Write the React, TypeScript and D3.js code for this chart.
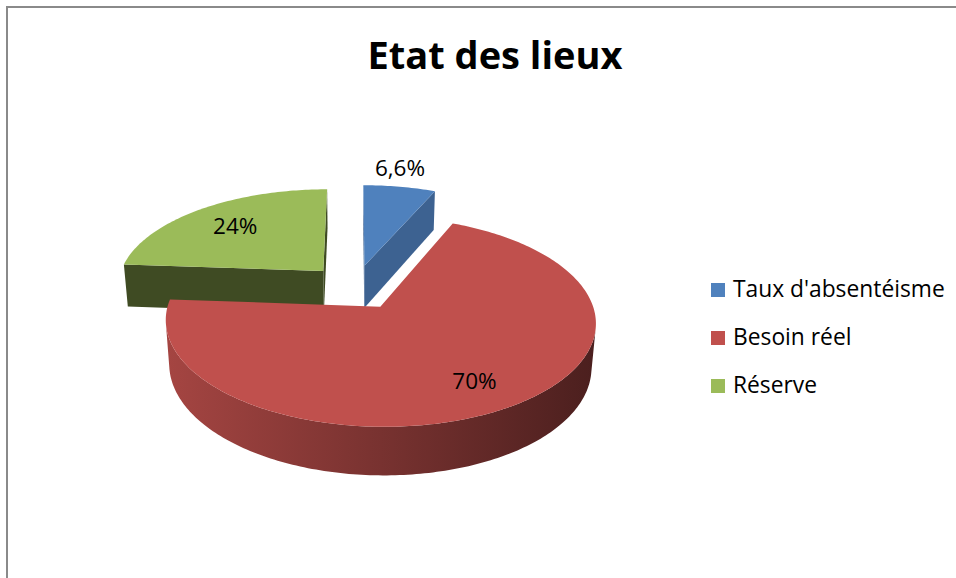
import React from 'react';
import * as d3 from 'd3';

// ---------- data ----------
const categories: string[] = ["Taux d'absentéisme", "Besoin réel", "Réserve"];
const values: number[] = [6.6, 70, 24];
const title = 'Etat des lieux';

// ---------- styles ----------
const topColors = ['#4F81BD', '#C0504D', '#9BBB59'];
const radialColors = ['#3D6291', '#7E302E', '#3F4B23'];
const labelRadius = [1.28, 0.77, 0.7];
const labelShiftX = [-8, -2, 0];
const FONT = '"Open Sans", Calibri, sans-serif';

// ---------- 3D projection ----------
const W = 956, HH = 578;
const EXPLODE = 0.23;
const DEPTH = 0.24;
const DIST = 6.32;
const SIN = 0.47;
const COS = Math.sqrt(1 - SIN * SIN);
const FOCAL = 1308;
const CX = 355, CY = 287;
const CAM: [number, number, number] = [0, DIST * SIN, DIST * COS];

type P3 = [number, number, number];
function project(p: P3): [number, number] {
  const [X, Y, Z] = p;
  const depth = DIST - (Y * SIN + Z * COS);
  return [CX + (FOCAL * X) / depth, CY + (FOCAL * (Z * SIN - Y * COS)) / depth];
}
function visible(p: P3, n: P3): boolean {
  return (CAM[0] - p[0]) * n[0] + (CAM[1] - p[1]) * n[1] + (CAM[2] - p[2]) * n[2] > 0;
}
const line = d3.line<[number, number]>();
const poly = (pts: P3[]) => line(pts.map(project)) + 'Z';

function fmt(v: number) {
  return String(v).replace('.', ',') + '%';
}

export default function App() {
  const arcs = d3.pie<number>().sort(null).value((d) => d)(values);

  const slices = arcs.map((a, i) => {
    const a0 = a.startAngle, a1 = a.endAngle;
    const m = (a0 + a1) / 2;
    const ox = EXPLODE * Math.sin(m), oz = -EXPLODE * Math.cos(m);
    const rim = (t: number, Y: number): P3 => [ox + Math.sin(t), Y, oz - Math.cos(t)];
    const vtx = (Y: number): P3 => [ox, Y, oz];
    const n = Math.max(8, Math.ceil(((a1 - a0) * 180) / Math.PI));
    const ts = d3.range(n + 1).map((k) => a0 + ((a1 - a0) * k) / n);

    const faces: { d: string; fill: string }[] = [];
    const nStart: P3 = [-Math.cos(a0), 0, -Math.sin(a0)];
    const nEnd: P3 = [Math.cos(a1), 0, Math.sin(a1)];
    if (visible(vtx(0), nStart))
      faces.push({ d: poly([vtx(0), rim(a0, 0), rim(a0, -DEPTH), vtx(-DEPTH)]), fill: radialColors[i] });
    if (visible(vtx(0), nEnd))
      faces.push({ d: poly([vtx(0), rim(a1, 0), rim(a1, -DEPTH), vtx(-DEPTH)]), fill: radialColors[i] });
    let run: number[] = [];
    const runs: number[][] = [];
    ts.forEach((t) => {
      const p = rim(t, 0);
      if (visible(p, [Math.sin(t), 0, -Math.cos(t)])) run.push(t);
      else if (run.length) { runs.push(run); run = []; }
    });
    if (run.length) runs.push(run);
    const xs = ts.map((t) => project(rim(t, 0))[0]);
    const gx0 = d3.min(xs)!, gx1 = d3.max(xs)!;
    runs.forEach((r) => {
      if (r.length < 2) return;
      const pts = [...r.map((t) => rim(t, 0)), ...r.slice().reverse().map((t) => rim(t, -DEPTH))];
      faces.push({ d: poly(pts), fill: `url(#side-${i})` });
    });
    const top = poly([vtx(0), ...ts.map((t) => rim(t, 0))]);
    const lr = labelRadius[i];
    const lp = project([ox + lr * Math.sin(m), 0, oz - lr * Math.cos(m)]);
    return { i, oz, faces, top, gx0, gx1, lp };
  });

  const order = slices.slice().sort((a, b) => a.oz - b.oz);

  return (
    <svg width={W} height={HH} style={{ position: 'absolute', left: 0, top: 0, display: 'block', background: '#fff' }}>
      <defs>
        {slices.map((s) => {
          const col = d3.color(topColors[s.i])!;
          return (
            <linearGradient key={s.i} id={`side-${s.i}`} gradientUnits="userSpaceOnUse" x1={s.gx0} x2={s.gx1} y1={0} y2={0}>
              <stop offset="0" stopColor={col.darker(0.42).formatHex()} />
              <stop offset="1" stopColor={col.darker(2.65).formatHex()} />
            </linearGradient>
          );
        })}
      </defs>
      <rect x={0} y={0} width={W} height={HH} fill="#fff" />
      <rect x={7} y={7} width={W + 20} height={HH + 20} fill="#fff" stroke="#8a8a8a" strokeWidth={2} />
      <text x={495} y={69} textAnchor="middle" fontFamily={FONT} fontWeight="bold" fontSize={38} fill="#000">
        {title}
      </text>
      {order.map((s) => (
        <g key={s.i}>
          {s.faces.map((f, k) => (
            <path key={k} d={f.d} fill={f.fill} />
          ))}
          <path d={s.top} fill={topColors[s.i]} />
        </g>
      ))}
      {slices.map((s) => (
        <text key={s.i} x={s.lp[0] + labelShiftX[s.i]} y={s.lp[1]} dy="0.35em" textAnchor="middle" fontFamily={FONT} fontSize={22.5} fill="#000">
          {fmt(values[s.i])}
        </text>
      ))}
      {categories.map((c, i) => (
        <g key={c}>
          <rect x={711} y={297 + i * 48 - 14} width={14} height={14} fill={topColors[i]} />
          <text x={733} y={297 + i * 48} fontFamily={FONT} fontSize={22.8} fill="#000">
            {c}
          </text>
        </g>
      ))}
    </svg>
  );
}
